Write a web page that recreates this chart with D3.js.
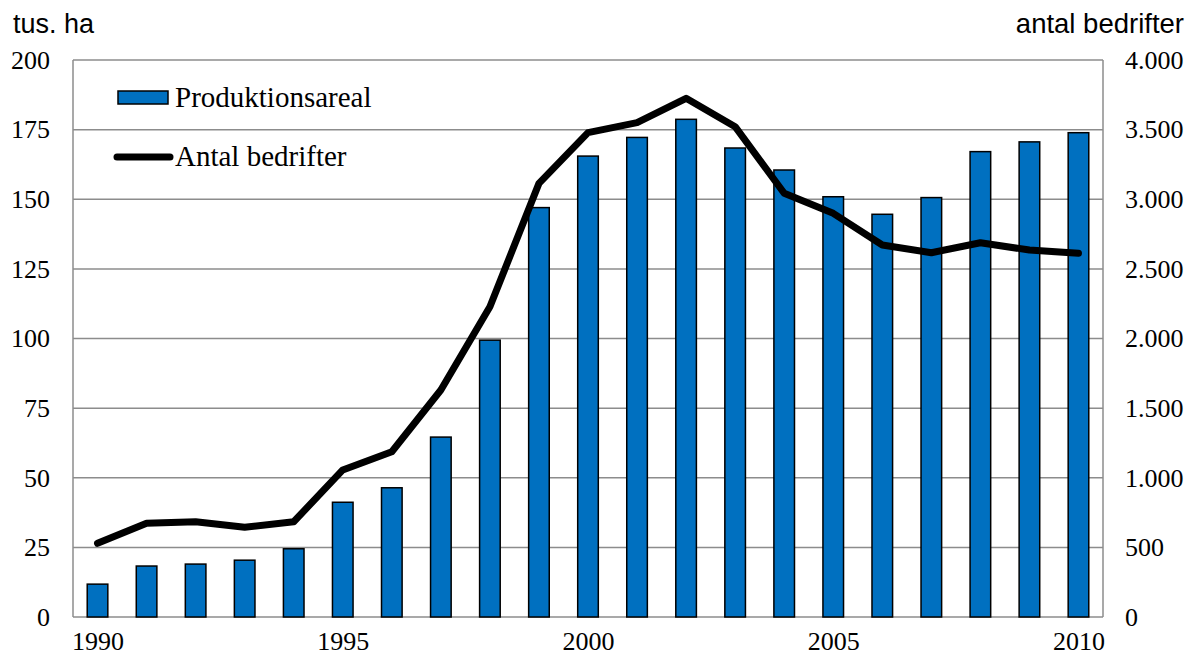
<!DOCTYPE html>
<html>
<head>
<meta charset="utf-8">
<script src="https://cdn.jsdelivr.net/npm/d3@7"></script>
<style>
  body { margin: 0; background: #fff; }
  .tick text { font-family: "Liberation Serif", "Times New Roman", serif; font-size: 26px; fill: #000; }
</style>
</head>
<body>
<div id="chart"></div>
<script>
// data
var years = [1990, 1991, 1992, 1993, 1994, 1995, 1996, 1997, 1998, 1999, 2000,
             2001, 2002, 2003, 2004, 2005, 2006, 2007, 2008, 2009, 2010];
var areal = [11.8, 18.3, 19.0, 20.4, 24.5, 41.2, 46.4, 64.6, 99.4, 147.0, 165.5,
             172.2, 178.7, 168.4, 160.5, 150.9, 144.6, 150.6, 167.1, 170.6, 173.9];
var bedrifter = [529, 673, 684, 644, 684, 1056, 1187, 1630, 2228, 3114, 3478,
                 3550, 3725, 3521, 3043, 2899, 2671, 2616, 2688, 2635, 2612];
var leftTicks = [0, 25, 50, 75, 100, 125, 150, 175, 200];
var rightTicks = [0, 500, 1000, 1500, 2000, 2500, 3000, 3500, 4000];
var xTicks = [1990, 1995, 2000, 2005, 2010];

const width = 1195;
const height = 658;
const margin = { top: 60, right: 92, bottom: 41, left: 73 };
const w = width - margin.left - margin.right;
const h = height - margin.top - margin.bottom;

const svg = d3.select('#chart').append('svg')
    .attr('width', width)
    .attr('height', height);

const chart = svg.append('g')
    .attr('transform', `translate(${margin.left},${margin.top})`);

const x = d3.scaleBand().domain(years).range([0, w]);
const yL = d3.scaleLinear().domain([0, 200]).range([h, 0]);
const yR = d3.scaleLinear().domain([0, 4000]).range([h, 0]);

// gridlines
chart.selectAll('.grid')
    .data(leftTicks)
    .enter()
    .append('line')
    .attr('x1', 0).attr('x2', w)
    .attr('y1', d => yL(d)).attr('y2', d => yL(d))
    .attr('stroke', '#8c8c8c')
    .attr('stroke-width', 1.5);

// frame sides
chart.append('line').attr('x1', 0).attr('x2', 0).attr('y1', 0).attr('y2', h)
    .attr('stroke', '#8c8c8c').attr('stroke-width', 1.5);
chart.append('line').attr('x1', w).attr('x2', w).attr('y1', 0).attr('y2', h)
    .attr('stroke', '#8c8c8c').attr('stroke-width', 1.5);

// bars
const bw = x.bandwidth() * 0.42;
chart.selectAll('.bar')
    .data(years)
    .enter()
    .append('rect')
    .attr('x', d => x(d) + x.bandwidth() / 2 - bw / 2)
    .attr('y', (d, i) => yL(areal[i]))
    .attr('width', bw)
    .attr('height', (d, i) => h - yL(areal[i]))
    .attr('fill', '#0070c0')
    .attr('stroke', '#000')
    .attr('stroke-width', 1.5);

// line
const line = d3.line()
    .x((d, i) => x(years[i]) + x.bandwidth() / 2)
    .y(d => yR(d));

chart.append('path')
    .datum(bedrifter)
    .attr('d', line)
    .attr('fill', 'none')
    .attr('stroke', '#000')
    .attr('stroke-width', 7)
    .attr('stroke-linejoin', 'round')
    .attr('stroke-linecap', 'round');

// axes
const yAxisL = d3.axisLeft(yL).tickValues(leftTicks).tickSize(0).tickPadding(23);
chart.append('g').call(yAxisL).call(g => g.select('.domain').remove());

const yAxisR = d3.axisRight(yR).tickValues(rightTicks).tickSize(0).tickPadding(22)
    .tickFormat(d => d3.format(',')(d).replace(/,/g, '.'));
chart.append('g').attr('transform', `translate(${w},0)`)
    .call(yAxisR).call(g => g.select('.domain').remove());

const xPos = d3.scaleLinear().domain([1990, 2010])
    .range([x(1990) + x.bandwidth() / 2, x(2010) + x.bandwidth() / 2]);
const xAxis = d3.axisBottom(xPos).tickValues(xTicks).tickSize(0).tickPadding(15)
    .tickFormat(d3.format('d'));
chart.append('g').attr('transform', `translate(0,${h})`)
    .call(xAxis).call(g => g.select('.domain').remove());

// unit labels
svg.append('text')
    .attr('x', 13).attr('y', 33)
    .style('font-family', '"Liberation Sans", Arial, sans-serif')
    .style('font-size', '27px')
    .text('tus. ha');

svg.append('text')
    .attr('x', 1184).attr('y', 33)
    .attr('text-anchor', 'end')
    .style('font-family', '"Liberation Sans", Arial, sans-serif')
    .style('font-size', '27.5px')
    .text('antal bedrifter');

// legend
const legend = svg.append('g')
    .style('font-family', '"Liberation Serif", "Times New Roman", serif')
    .style('font-size', '29px');

legend.append('rect')
    .attr('x', 118).attr('y', 91).attr('width', 50).attr('height', 13)
    .attr('fill', '#0070c0').attr('stroke', '#000').attr('stroke-width', 1.5);
legend.append('text').attr('x', 175).attr('y', 107).text('Produktionsareal');

legend.append('line')
    .attr('x1', 117).attr('x2', 170).attr('y1', 157).attr('y2', 157)
    .attr('stroke', '#000').attr('stroke-width', 7).attr('stroke-linecap', 'round');
legend.append('text').attr('x', 175).attr('y', 166).text('Antal bedrifter');
</script>
</body>
</html>
